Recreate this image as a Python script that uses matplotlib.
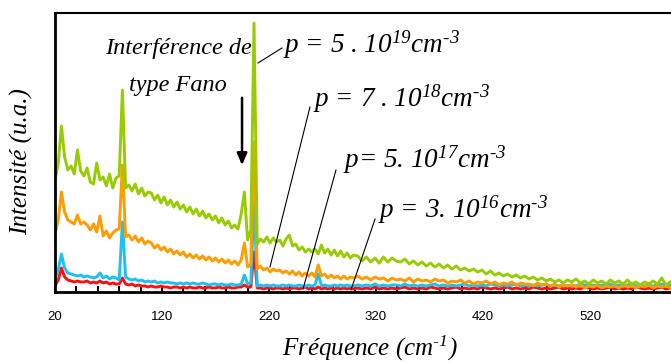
import matplotlib
matplotlib.use("Agg")
import matplotlib.pyplot as plt
from matplotlib.ticker import FixedLocator, MultipleLocator
import numpy as np

plt.rcParams["mathtext.fontset"] = "custom"
plt.rcParams["mathtext.it"] = "Liberation Serif:italic"
plt.rcParams["mathtext.rm"] = "Liberation Serif:italic"

# sampling grid (cm-1): finer below 300, coarser in the flat tail
freq = np.concatenate([np.arange(20, 300, 3), np.arange(303, 596, 4)])

# p = 5.10^19 (green)
green = [
    112, 128, 166, 135, 122, 126, 118, 142, 121, 116,
    124, 110, 108, 129, 112, 115, 106, 118, 104, 114,
    116, 202, 104, 107, 101, 108, 98, 104, 96, 100,
    99, 92, 97, 89, 95, 87, 92, 85, 90, 83,
    87, 80, 85, 78, 83, 76, 81, 74, 78, 72,
    76, 69, 74, 67, 71, 64, 67, 63, 78, 100,
    52, 62, 269, 48, 53, 50, 55, 49, 54, 50,
    52, 46, 53, 57, 46, 48, 42, 45, 40, 43,
    40, 43, 38, 47, 39, 43, 37, 42, 36, 41,
    35, 39, 34, 37,
    36, 31, 35, 30, 34, 29, 35, 30, 34, 31,
    30, 33, 28, 31, 27, 30, 26, 29, 25, 28,
    24, 27, 23, 26, 22, 24, 21, 23, 20, 22,
    18, 21, 17, 19, 16, 18, 15, 17, 14, 16,
    13, 15, 12, 14, 11, 13, 10, 12, 9, 12,
    10, 13, 9, 11, 8, 12, 9, 11, 8, 12,
    9, 11, 8, 12, 8, 10, 7, 10, 8, 11,
    8, 14, 7, 10,
]

# p = 7.10^18 (orange)
orange = [
    58, 72, 100, 80, 72, 70, 68, 77, 68, 70,
    67, 62, 68, 60, 76, 56, 61, 54, 59, 62,
    63, 127, 55, 57, 52, 56, 50, 54, 48, 51,
    49, 44, 47, 42, 45, 40, 43, 38, 41, 37,
    40, 35, 38, 34, 37, 33, 36, 32, 35, 31,
    34, 30, 33, 29, 32, 28, 31, 27, 32, 49,
    25, 28, 150, 23, 26, 22, 24, 20, 23, 21,
    22, 19, 21, 18, 21, 17, 20, 16, 19, 16,
    19, 15, 27, 16, 18, 14, 17, 14, 16, 13,
    16, 13, 15, 14,
    16, 13, 15, 12, 15, 13, 14, 11, 14, 12,
    13, 11, 14, 10, 13, 11, 12, 10, 13, 11,
    12, 9, 11, 10, 12, 9, 11, 8, 10, 9,
    11, 8, 10, 7, 9, 8, 10, 7, 9, 8,
    8, 6, 9, 7, 8, 6, 8, 5, 7, 6,
    7, 5, 7, 4, 6, 5, 7, 4, 6, 5,
    6, 4, 7, 5, 6, 4, 6, 5, 7, 4,
    6, 5, 6, 4,
]

# p = 5.10^17 (blue)
blue = [
    14, 22, 38, 24, 19, 18, 17, 16, 17, 15,
    16, 15, 14, 15, 19, 14, 16, 13, 15, 14,
    12, 70, 15, 13, 12, 13, 11, 12, 10, 11,
    10, 11, 9, 10, 9, 10, 9, 9, 8, 9,
    8, 9, 8, 9, 8, 8, 9, 8, 7, 8,
    8, 7, 8, 7, 7, 8, 7, 7, 8, 17,
    8, 9, 90, 6, 7, 6, 7, 6, 7, 6,
    6, 7, 6, 7, 6, 6, 7, 6, 6, 7,
    6, 7, 18, 6, 7, 6, 6, 7, 6, 7,
    6, 7, 6, 6,
    7, 6, 7, 6, 8, 6, 7, 6, 7, 7,
    6, 8, 6, 7, 6, 7, 6, 7, 8, 6,
    7, 6, 7, 6, 7, 8, 6, 7, 6, 7,
    6, 8, 7, 6, 7, 6, 7, 8, 6, 7,
    6, 7, 6, 7, 8, 6, 7, 6, 7, 6,
    7, 6, 8, 7, 6, 7, 6, 7, 6, 8,
    6, 7, 6, 7, 8, 6, 7, 6, 7, 6,
    7, 8, 6, 7,
]

# p = 3.10^16 (red)
red = [
    6, 12, 24, 15, 12, 11, 10, 11, 10, 10,
    11, 9, 10, 9, 11, 9, 10, 8, 9, 8,
    8, 14, 8, 7, 8, 6, 7, 6, 6, 5,
    6, 5, 5, 6, 5, 5, 4, 5, 5, 4,
    5, 4, 5, 4, 4, 5, 4, 4, 5, 4,
    4, 5, 4, 4, 5, 4, 4, 5, 5, 7,
    5, 5, 40, 4, 4, 3, 4, 4, 3, 4,
    4, 3, 4, 3, 4, 4, 3, 4, 5, 3,
    4, 3, 5, 3, 4, 3, 4, 3, 4, 3,
    4, 3, 4, 3,
    4, 3, 4, 3, 5, 3, 4, 3, 4, 3,
    4, 5, 3, 4, 3, 4, 3, 5, 4, 3,
    4, 3, 4, 5, 3, 4, 3, 4, 3, 5,
    4, 3, 4, 3, 4, 5, 3, 4, 3, 4,
    3, 5, 4, 3, 4, 3, 4, 5, 3, 4,
    3, 4, 3, 5, 4, 3, 4, 3, 4, 5,
    3, 4, 3, 4, 3, 5, 4, 3, 4, 3,
    4, 5, 3, 4,
]

tick_values = [20, 120, 220, 320, 420, 520]

labels = [
    "$p$ = 5 . 10$^{19}$cm$^{\u20103}$",
    "$p$ = 7 . 10$^{18}$cm$^{\u20103}$",
    "$p$= 5. 10$^{17}$cm$^{\u20103}$",
    "$p$ = 3. 10$^{16}$cm$^{\u20103}$",
]

fig = plt.figure(figsize=(6.71, 3.63), dpi=100)
ax = fig.add_axes([55 / 671, 71 / 363, 616 / 671, 279 / 363])

for values, color in [(red, "#ff1010"), (blue, "#1ec0f0"),
                      (orange, "#ff9c00"), (green, "#99cc00")]:
    ax.plot(freq, values, color=color, lw=2.1)

ax.set_xlim(20, 595.7)
ax.set_ylim(0, 279)

ax.xaxis.set_major_locator(FixedLocator(tick_values))
ax.xaxis.set_minor_locator(MultipleLocator(20))
ax.tick_params(axis="x", which="both", direction="in", length=4.5, width=1.5, pad=14,
               labelsize=9.5)
for lab in ax.get_xticklabels():
    lab.set_fontfamily("Liberation Sans")
ax.set_yticks([])

ax.spines["right"].set_visible(False)
ax.spines["left"].set_linewidth(2)
ax.spines["bottom"].set_linewidth(2)
ax.spines["top"].set_linewidth(1.5)

serif = dict(family="Liberation Serif", style="italic")

ax.set_xlabel("Fréquence (cm$^{\u20101}$)", fontsize=18, va="center", **serif)
ax.xaxis.set_label_coords((370 - 55) / 616, -(348 - 292) / 279)
fig.text(22 / 671, 1 - 162 / 363, "Intensité (u.a.)", rotation=90, ha="center",
         va="center", fontsize=18, **serif)

ax.text(135, 238, "Interférence de", ha="center", va="baseline", fontsize=17.5, **serif)
ax.text(135, 201, "type Fano", ha="center", va="baseline", fontsize=17.5, **serif)
ax.annotate("", xy=(194.8, 124), xytext=(194.8, 197),
            arrowprops=dict(arrowstyle="-|>,head_width=0.3,head_length=0.7",
                            color="black", lw=1.8))

label_pos = [(233.1, 239), (261.1, 185), (289.2, 124), (321.9, 74)]
leaders = [
    ((209.7, 229), (232.1, 244)),
    ((258.3, 185), (220.9, 25)),
    ((282.6, 122), (251.8, 3)),
    ((319.1, 73), (296.6, 2)),
]
for text, (x, y), (p0, p1) in zip(labels, label_pos, leaders):
    ax.text(x, y, text, ha="left", va="baseline", fontsize=19.5, **serif)
    ax.plot([p0[0], p1[0]], [p0[1], p1[1]], color="black", lw=0.8)

fig.savefig("out.png", dpi=100)
